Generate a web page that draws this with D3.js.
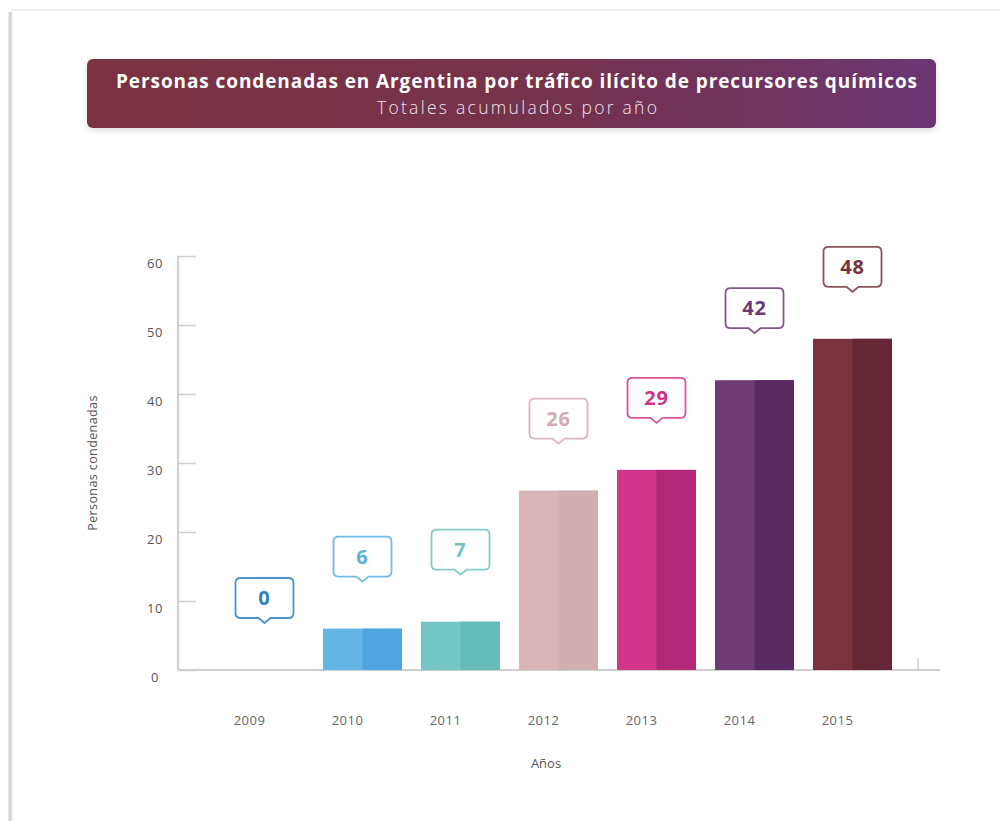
<!DOCTYPE html>
<html>
<head>
<meta charset="utf-8">
<script src="https://cdn.jsdelivr.net/npm/d3@7"></script>
<style>
  body { margin: 0; background: #fff; }
  svg { display: block; font-family: "Open Sans", sans-serif; }
</style>
</head>
<body>
<svg width="1000" height="821"></svg>
<script>
var years = ['2009', '2010', '2011', '2012', '2013', '2014', '2015']
var condenados = [0, 6, 7, 26, 29, 42, 48]
var yTicks = [0, 10, 20, 30, 40, 50, 60]
var colorsLeft = ['#62b5e5', '#62b5e5', '#74c6c6', '#d8b4b8', '#d2368a', '#6f3b75', '#7a323e']
var colorsRight = ['#4ea5df', '#4ea5df', '#65bbb8', '#d0aeb2', '#b02877', '#5a2b62', '#652735']
var labelColors = ['#2f7fc1', '#5aaee0', '#6cc2c0', '#d2aab0', '#d0358a', '#6a3a72', '#7a323e']

var svg = d3.select('svg')

var defs = svg.append('defs')
var grad = defs.append('linearGradient').attr('id', 'banner')
    .attr('x1', '0%').attr('x2', '100%').attr('y1', '0%').attr('y2', '0%')
grad.append('stop').attr('offset', '0%').attr('stop-color', '#7b3141')
grad.append('stop').attr('offset', '55%').attr('stop-color', '#75324c')
grad.append('stop').attr('offset', '100%').attr('stop-color', '#6a3572')

var shadow = defs.append('filter').attr('id', 'shadow')
    .attr('x', '-5%').attr('y', '-20%').attr('width', '110%').attr('height', '150%')
shadow.append('feDropShadow').attr('dx', 0).attr('dy', 3).attr('stdDeviation', 3)
    .attr('flood-color', '#000').attr('flood-opacity', 0.12)

// card
svg.append('rect')
    .attr('x', 12).attr('y', 10).attr('width', 1000).attr('height', 830)
    .attr('fill', '#fff').attr('stroke', '#e6e6e6')
svg.append('line')
    .attr('x1', 10).attr('x2', 10).attr('y1', 12).attr('y2', 821)
    .attr('stroke', '#d4d4d4').attr('stroke-width', 3)

// banner
svg.append('rect')
    .attr('x', 87).attr('y', 59).attr('width', 849).attr('height', 69)
    .attr('rx', 6).attr('fill', 'url(#banner)').attr('filter', 'url(#shadow)')
svg.append('text')
    .attr('x', 116).attr('y', 88)
    .attr('fill', '#fff').attr('font-weight', 700).attr('font-size', 19)
    .attr('textLength', 801).attr('lengthAdjust', 'spacing')
    .text('Personas condenadas en Argentina por tráfico ilícito de precursores químicos')
svg.append('text')
    .attr('x', 377).attr('y', 114)
    .attr('fill', '#f0e6ee').attr('font-weight', 300).attr('font-size', 17.5)
    .attr('textLength', 280).attr('lengthAdjust', 'spacing')
    .text('Totales acumulados por año')

// scales
var x = d3.scaleBand().domain(years).range([215.2, 901.8]).paddingInner(0.194).paddingOuter(0.1)
var y = d3.scaleLinear().domain([0, 60]).range([670, 256])

// y axis
var yAxis = svg.append('g')
    .attr('transform', 'translate(178,0)')
    .call(d3.axisRight(y).tickValues(yTicks).tickSize(18).tickFormat(''))
yAxis.select('.domain').remove()
yAxis.selectAll('line').attr('stroke', '#cfcfcf').attr('stroke-width', 1.5)
svg.append('line')
    .attr('x1', 178).attr('x2', 178).attr('y1', y(60)).attr('y2', y(0))
    .attr('stroke', '#cfcfcf').attr('stroke-width', 2)
svg.selectAll('.ylab').data(yTicks).enter().append('text')
    .attr('class', 'ylab')
    .attr('x', 155).attr('y', function(d){ return y(d) + 12 })
    .attr('text-anchor', 'middle').attr('font-size', 13).attr('fill', '#555')
    .attr('letter-spacing', 0.6)
    .text(function(d){ return d })

// x axis
svg.append('line')
    .attr('x1', 178).attr('x2', 940).attr('y1', y(0)).attr('y2', y(0))
    .attr('stroke', '#cfcfcf').attr('stroke-width', 2)
svg.append('line')
    .attr('x1', 918).attr('x2', 918).attr('y1', y(0) - 12).attr('y2', y(0))
    .attr('stroke', '#cfcfcf').attr('stroke-width', 1.5)
svg.selectAll('.xlab').data(years).enter().append('text')
    .attr('class', 'xlab')
    .attr('x', function(d){ return x(d) + x.bandwidth() / 2 - 15 })
    .attr('y', 725).attr('text-anchor', 'middle')
    .attr('font-size', 13).attr('fill', '#666').attr('letter-spacing', 0.5)
    .text(function(d){ return d })

svg.append('text')
    .attr('x', 546).attr('y', 768).attr('text-anchor', 'middle')
    .attr('font-size', 13).attr('fill', '#555').text('Años')
svg.append('text')
    .attr('transform', 'translate(97,463) rotate(-90)')
    .attr('text-anchor', 'middle').attr('font-size', 12.5).attr('fill', '#555')
    .attr('letter-spacing', 0.4)
    .text('Personas condenadas')

// bars (two tone: full bar in light colour, right half overlaid darker)
var data = years.map(function(d, i){ return {year: d, value: condenados[i], i: i} })
var bars = svg.selectAll('.bar').data(data).enter().append('g').attr('class', 'bar')
bars.append('rect')
    .attr('x', function(d){ return x(d.year) })
    .attr('y', function(d){ return y(d.value) })
    .attr('width', x.bandwidth())
    .attr('height', function(d){ return y(0) - y(d.value) })
    .attr('fill', function(d){ return colorsLeft[d.i] })
bars.append('rect')
    .attr('x', function(d){ return x(d.year) + x.bandwidth() / 2 })
    .attr('y', function(d){ return y(d.value) })
    .attr('width', x.bandwidth() / 2)
    .attr('height', function(d){ return y(0) - y(d.value) })
    .attr('fill', function(d){ return colorsRight[d.i] })

// value callouts
var bw = 58, bh = 40, gap = 52
var callouts = svg.selectAll('.callout').data(data).enter().append('g')
    .attr('class', 'callout')
    .attr('transform', function(d){
        return 'translate(' + (x(d.year) + x.bandwidth() / 2) + ',' + (y(d.value) - gap) + ')'
    })
callouts.append('path')
    .attr('d', function(){
        var r = 5, w = bw / 2
        return 'M' + (-w + r) + ',' + (-bh) +
            ' H' + (w - r) + ' Q' + w + ',' + (-bh) + ' ' + w + ',' + (-bh + r) +
            ' V' + (-r) + ' Q' + w + ',0 ' + (w - r) + ',0' +
            ' H6 L0,5 L-6,0 H' + (-w + r) +
            ' Q' + (-w) + ',0 ' + (-w) + ',' + (-r) +
            ' V' + (-bh + r) + ' Q' + (-w) + ',' + (-bh) + ' ' + (-w + r) + ',' + (-bh) + ' Z'
    })
    .attr('fill', '#fff')
    .attr('stroke', function(d){ return labelColors[d.i] })
    .attr('stroke-opacity', 0.85)
    .attr('stroke-width', 1.8)
callouts.append('text')
    .attr('y', -13).attr('text-anchor', 'middle')
    .attr('font-size', 20).attr('font-weight', 700).attr('letter-spacing', 0.8)
    .attr('fill', function(d){ return labelColors[d.i] })
    .text(function(d){ return d.value })
</script>
</body>
</html>
